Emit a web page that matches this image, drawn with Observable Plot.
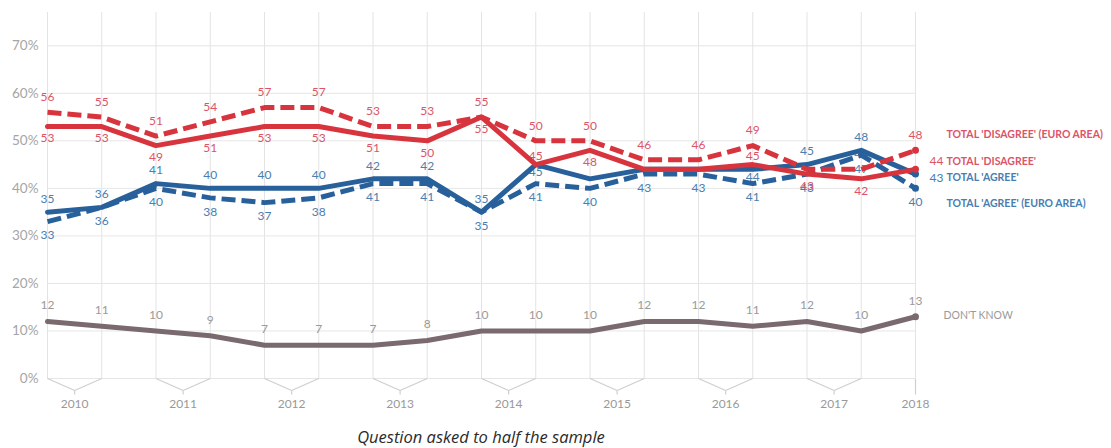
<!DOCTYPE html>
<html>
<head>
<meta charset="utf-8">
<script src="https://cdn.jsdelivr.net/npm/d3@7"></script>
<script src="https://cdn.jsdelivr.net/npm/@observablehq/plot@0.6"></script>
<style>
  body { margin: 0; background: #fff; }
  #wrap { width: 1111px; height: 448px; position: relative; overflow: hidden; font-family: Lato, sans-serif; }
  #cap { width: 962px; text-align: center; margin-top: 3px; line-height: 22px; font-family: "Open Sans", sans-serif; font-style: italic; font-size: 16.5px; color: #2a2a2a; }
</style>
</head>
<body>
<div id="wrap"><div id="chart"></div><div id="cap">Question asked to half the sample</div></div>
<script>
// ---- data (two surveys per year 2010–2017, one in 2018) ----
const years = ["2010", "2011", "2012", "2013", "2014", "2015", "2016", "2017", "2018"];
const disagreeEA = [56, 55, 51, 54, 57, 57, 53, 53, 55, 50, 50, 46, 46, 49, 44, 44, 48];
const disagree   = [53, 53, 49, 51, 53, 53, 51, 50, 55, 45, 48, 44, 44, 45, 43, 42, 44];
const agree      = [35, 36, 41, 40, 40, 40, 42, 42, 35, 45, 42, 44, 44, 44, 45, 48, 43];
const agreeEA    = [33, 36, 40, 38, 37, 38, 41, 41, 35, 41, 40, 43, 43, 41, 43, 47, 40];
const dontKnow   = [12, 11, 10, 9, 7, 7, 7, 8, 10, 10, 10, 12, 12, 11, 12, 10, 13];
const seriesNames = ["TOTAL 'DISAGREE' (EURO AREA)", "TOTAL 'DISAGREE'", "TOTAL 'AGREE'", "TOTAL 'AGREE' (EURO AREA)", "DON'T KNOW"];
const yTicks = [0, 10, 20, 30, 40, 50, 60, 70];

// ---- layout ----
const W = 1111, H = 423, mL = 47, mR = 196, mT = 12, mB = 45;
const yMax = 77;
const unitPerPx = yMax / (H - mT - mB);
const n = disagree.length, last = n - 1;
const idx = d3.range(n);
const font = "Lato, sans-serif";

const RED = "#d8343d", BLUE = "#27609a", GREY = "#7a6a70";
const RED_T = "#dc5468", BLUE_T = "#4a7db0", GREY_T = "#9a9a9a";

// chevron year brackets under the axis
const dip = -12 * unitPerPx, tickEnd = -16 * unitPerPx;
const brackets = [];
years.slice(0, -1).forEach((y, k) => {
  const a = 2 * k, b = 2 * k + 1, m = a + 0.5;
  brackets.push({x1: a, y1: 0, x2: m, y2: dip});
  brackets.push({x1: m, y1: dip, x2: b, y2: 0});
  brackets.push({x1: m, y1: dip, x2: m, y2: tickEnd});
});
brackets.push({x1: last, y1: 0, x2: last, y2: tickEnd});
const yearPos = years.map((y, k) => k < years.length - 1 ? 2 * k + 0.5 : last);

// label placement rules (labels the reference leaves hidden behind crossing lines are skipped)
const flip = [9, 13];
const hideDisagree = [11, 12];
const hideAgree = [10, 11, 12];
const hideDisagreeEA = [14];
const normalIdx = hidden => idx.filter(i => i !== last && !flip.includes(i) && !hidden.includes(i));

function lbl(vals, ids, color, opts) {
  return Plot.text(ids, {x: i => i, y: i => vals[i], text: i => String(vals[i]),
    fill: color, fontSize: 12, fontFamily: font, ...opts});
}
function line(vals, color, dash) {
  return Plot.line(idx, {x: i => i, y: i => vals[i], stroke: color, strokeWidth: 5,
    strokeDasharray: dash, strokeLinejoin: "round", strokeLinecap: dash ? "butt" : "round", curve: "linear"});
}
function endDot(vals, color) {
  return Plot.dot([last], {x: i => i, y: i => vals[i], r: 3.5, fill: color});
}
function legend(k, vals, color, dx, dy, weight) {
  return Plot.text([last], {x: i => i, y: i => vals[i], text: () => seriesNames[k], fill: color,
    dx, dy, textAnchor: "start", fontSize: 10.5, fontWeight: weight, fontFamily: font});
}

const chart = Plot.plot({
  width: W, height: H,
  marginLeft: mL, marginRight: mR, marginTop: mT, marginBottom: mB,
  x: {domain: [0, last], axis: null},
  y: {domain: [0, yMax], axis: null},
  style: {fontFamily: font, background: "#fff"},
  marks: [
    Plot.ruleX(idx, {x: i => i, y1: 0, y2: yMax, stroke: "#e3e3e3", strokeWidth: 1}),
    Plot.ruleY(yTicks, {y: d => d, x1: 0, x2: last, stroke: "#e6e6e6", strokeWidth: 1}),
    Plot.link(brackets, {x1: "x1", y1: "y1", x2: "x2", y2: "y2", stroke: "#cfcfcf", strokeWidth: 1.2}),
    Plot.text(years, {x: (d, k) => yearPos[k], y: 0, dy: 26, text: d => d, fill: "#999", fontSize: 12, fontFamily: font}),
    Plot.axisY({ticks: yTicks, tickFormat: d => d + "%", tickSize: 0, tickPadding: 9, color: "#a5a5a5", fontSize: 13.5, anchor: "left"}),

    // value labels (drawn under the lines)
    lbl(dontKnow, idx, GREY_T, {dy: -16}),
    lbl(disagreeEA, idx.filter(i => !hideDisagreeEA.includes(i)), RED_T, {dy: -15}),
    lbl(agreeEA, idx, BLUE_T, {dy: 14}),
    lbl(disagree, normalIdx(hideDisagree), RED_T, {dy: 12}),
    lbl(disagree, flip, RED_T, {dy: -8}),
    lbl(disagree, [last], RED_T, {dx: 14, dy: -8, textAnchor: "start"}),
    lbl(agree, normalIdx(hideAgree), BLUE_T, {dy: -13}),
    lbl(agree, flip, BLUE_T, {dy: 8}),
    lbl(agree, [last], BLUE_T, {dx: 14, dy: 4, textAnchor: "start"}),

    // lines
    line(dontKnow, GREY, null),
    line(agreeEA, BLUE, "14,6"),
    line(agree, BLUE, null),
    line(disagreeEA, RED, "14,6"),
    line(disagree, RED, null),
    endDot(dontKnow, GREY), endDot(agreeEA, BLUE), endDot(agree, BLUE),
    endDot(disagreeEA, RED), endDot(disagree, RED),

    // series labels
    legend(0, disagreeEA, RED_T, 31, -16, "bold"),
    legend(1, disagree, RED_T, 31, -8, "bold"),
    legend(2, agree, BLUE_T, 31, 4, "bold"),
    legend(3, agreeEA, BLUE_T, 31, 15, "bold"),
    legend(4, dontKnow, GREY_T, 28, -1, "normal")
  ]
});
document.getElementById("chart").appendChild(chart);
</script>
</body>
</html>
